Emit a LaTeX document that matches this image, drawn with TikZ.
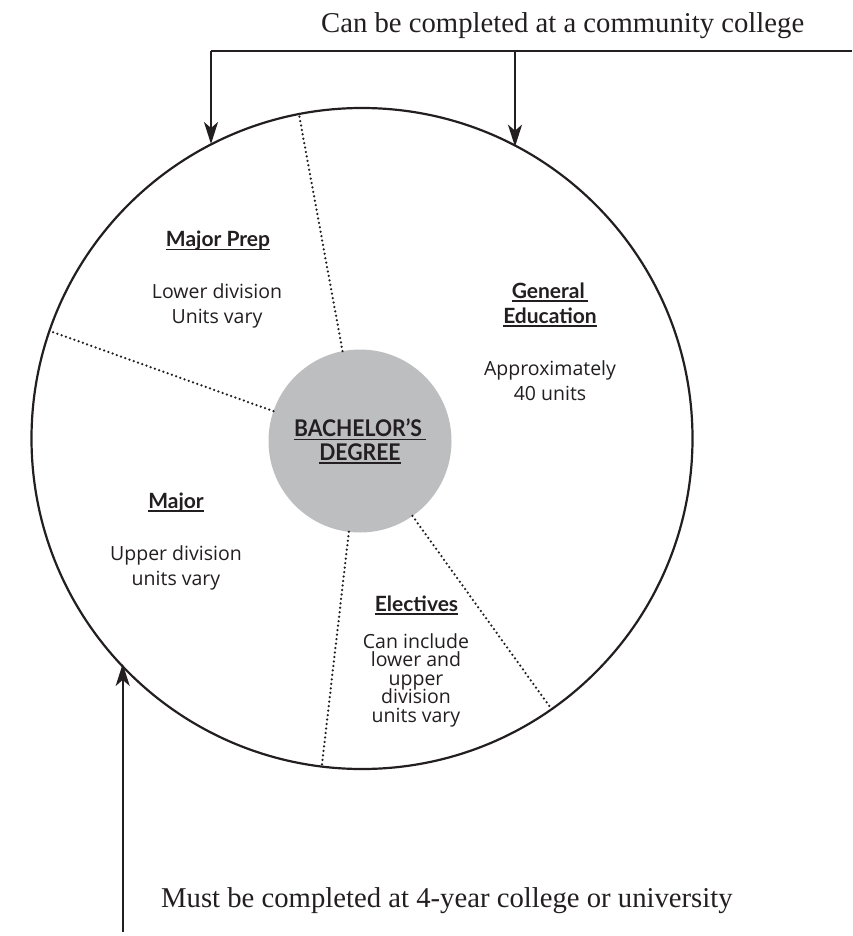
\documentclass[tikz,border=0pt]{standalone}
\usepackage{fontspec}
\setmainfont{Liberation Serif}
\newfontfamily\labfont{Open Sans}
\newfontfamily\headfont{Lato}
\newfontfamily\hubfont{Lato}[FakeStretch=0.92]
\usetikzlibrary{arrows.meta}
\definecolor{ink}{HTML}{231F20}
\definecolor{hubgray}{HTML}{BCBEC0}
\newcommand\ulx[1]{\setbox0\hbox{#1}\rlap{\rule[-3.5pt]{\wd0}{1.5pt}}\box0}
\newcommand\tightlines{\lineskiplimit=-50pt\relax}
\begin{document}
\begin{tikzpicture}[x=1pt,y=-1pt,
  ring/.style={circle,draw=ink,line width=2.2pt,inner sep=0pt,outer sep=0pt,minimum size=661pt},
  hub/.style={circle,fill=hubgray,inner sep=0pt,outer sep=0pt,minimum size=183pt},
  divider/.style={draw=ink,line width=2.5pt,line cap=round,dash pattern=on 0pt off 4.5pt},
  flow/.style={draw=ink,line width=2.2pt},
  tip/.style={-{Stealth[length=22pt,width=14pt,inset=6pt]}},
  head/.style={font=\headfont\bfseries\fontsize{21}{25}\selectfont,text=ink,anchor=base,inner sep=0pt,align=center},
  body/.style={font=\labfont\fontsize{19.5}{25}\selectfont,text=ink,anchor=base,inner sep=0pt,align=center},
  note/.style={font=\fontsize{28.7}{32}\selectfont,text=ink,anchor=base west,inner sep=0pt}]
\useasboundingbox[fill=white] (0,0) rectangle (852,936);

\node[ring] (ring) at (362,438.5) {};
\node[hub] (hub) at (360,441) {};

\draw[divider] (hub.101.5) -- (ring.101.5);
\draw[divider] (hub.161.5) -- (ring.161.5);
\draw[divider] (hub.263.6) -- (ring.263.6);
\draw[divider] (hub.305) -- (ring.305);

\coordinate (busL) at (211,50.7);
\coordinate (busR) at (515,50.7);
\coordinate (busE) at (852,50.7);
\coordinate (src) at (122.7,932);
\draw[flow] (busL) -- (busE);
\draw[flow,tip] (busL) -- (busL |- ring.117.2);
\draw[flow,tip] (busR) -- (busR |- ring.62.4);
\draw[flow,tip] (src) -- (src |- ring.223.6);

\node[note] (cc) at (321,33) {Can be completed at a community college};
\node[note] (uni) at (161,907) {Must be completed at 4-year college or university};

\node[head] (mp) at (218,246.7) {\ulx{Major Prep}};
\node[body] (mpt) at (217,323.5) {Lower division\\Units vary};
\node[head] (ge) at (550,323) {\ulx{General\,}\\\ulx{Education}};
\node[body] (get) at (550,400) {Approximately\\40 units};
\node[head,font=\hubfont\bfseries\fontsize{23}{23.5}\selectfont] (bd) at (360,460) {\ulx{BACHELOR’S\,}\\\ulx{DEGREE}};
\node[head] (mj) at (176,508) {\ulx{Major}};
\node[body] (mjt) at (176,585) {Upper division\\units vary};
\node[head] (el) at (416.5,611) {\ulx{Electives}};
\node[body,font=\labfont\fontsize{19.5}{18.5}\selectfont\tightlines] (elt) at (416,722) {Can include\\lower and\\upper\\division\\units vary};
\end{tikzpicture}
\end{document}
